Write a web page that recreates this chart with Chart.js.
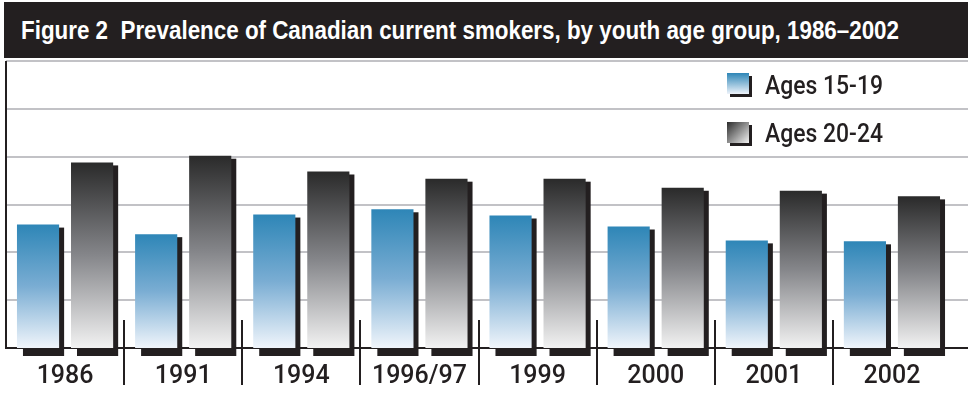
<!DOCTYPE html>
<html>
<head>
<meta charset="utf-8">
<script src="https://cdn.jsdelivr.net/npm/chart.js@4/dist/chart.umd.min.js"></script>
<style>
  html, body { margin: 0; padding: 0; background: #fff; }
  #wrap { position: relative; width: 968px; height: 396px; overflow: hidden; }
  #title {
    position: absolute; left: 4px; top: 2px; width: 964px; height: 56px;
    background: #231f20; color: #fff;
  }
  #title-text {
    position: absolute; left: 17px; top: 15px; white-space: pre;
    font: bold 26.5px "Liberation Sans", Arial, sans-serif; line-height: 26px;
    transform-origin: 0 0;
  }
  #chart-box { position: absolute; left: 0; top: 58px; width: 968px; height: 348px; }
  .legend-box {
    position: absolute; left: 727px; width: 22px; height: 21px;
    box-shadow: 3px 3px 0 #231f20;
  }
  .legend-text {
    position: absolute; left: 765px; white-space: nowrap; transform-origin: 0 0;
    font: 500 26px Roboto, "Liberation Sans", sans-serif; line-height: 26px; color: #231f20;
  }
</style>
</head>
<body>
<div id="wrap">
  <div id="title"><span id="title-text">Figure 2  Prevalence of Canadian current smokers, by youth age group, 1986–2002</span></div>
  <div id="chart-box"><canvas id="smokers-chart" width="968" height="348"></canvas></div>
  <div class="legend-box" style="top:73px; background:linear-gradient(#2e86b7,#eef3fa)"></div>
  <span class="legend-text" style="top:72px">Ages 15-19</span>
  <div class="legend-box" style="top:122px; background:linear-gradient(135deg,#2b2b2b,#f2f2f2)"></div>
  <span class="legend-text" style="top:120px">Ages 20-24</span>
</div>
<script>
// Survey years and prevalence (%)
const years = ["1986", "1991", "1994", "1996/97", "1999", "2000", "2001", "2002"];
const ages15to19 = [25.8, 23.8, 27.9, 29.0, 27.7, 25.4, 22.5, 22.3];
const ages20to24 = [38.8, 40.2, 36.9, 35.4, 35.4, 33.5, 32.9, 31.7];
const yTicks = [0, 10, 20, 30, 40, 50, 60];

const INK = "#231f20";

// squeeze the HTML text to the condensed widths of the original
function fitWidth(el, target) {
    const w = el.getBoundingClientRect().width;
    el.style.transform = `scaleX(${target / w})`;
}
fitWidth(document.getElementById("title-text"), 878);
document.querySelectorAll(".legend-text").forEach(el => fitWidth(el, 118));

// vertical gradient from the bar top down to the baseline
function barGradient(stops) {
    return context => {
        const chart = context.chart;
        if (!chart.chartArea) return stops[0];
        const y = chart.scales.y;
        const yTop = y.getPixelForValue(context.raw);
        const yBase = y.getPixelForValue(0);
        const g = chart.ctx.createLinearGradient(0, yTop, 0, yBase);
        g.addColorStop(0, stops[0]);
        g.addColorStop(0.5, stops[1]);
        g.addColorStop(1, stops[2]);
        return g;
    };
}

// gridlines, shadows, axis lines and category separators
const decorations = {
    id: "decorations",
    beforeDatasetsDraw(chart) {
        const { ctx, chartArea, scales } = chart;
        ctx.save();
        // horizontal gridlines run to the right edge of the canvas
        ctx.strokeStyle = "#c2c2c6";
        ctx.lineWidth = 2;
        yTicks.slice(1).forEach(v => {
            const y = Math.round(scales.y.getPixelForValue(v));
            ctx.beginPath();
            ctx.moveTo(chartArea.left, y);
            ctx.lineTo(chart.width, y);
            ctx.stroke();
        });
        // baseline
        const base = scales.y.getPixelForValue(0);
        ctx.strokeStyle = INK;
        ctx.beginPath();
        ctx.moveTo(chartArea.left - 1, base);
        ctx.lineTo(chart.width, base);
        ctx.stroke();
        // left axis
        ctx.beginPath();
        ctx.moveTo(chartArea.left, chartArea.top);
        ctx.lineTo(chartArea.left, base + 1);
        ctx.stroke();
        // separators between years
        for (let i = 1; i < years.length; i++) {
            const x = Math.round((scales.x.getPixelForValue(i - 1) + scales.x.getPixelForValue(i)) / 2);
            ctx.beginPath();
            ctx.moveTo(x, base - 28);
            ctx.lineTo(x, base + 37);
            ctx.stroke();
        }
        // drop shadows behind each bar
        ctx.fillStyle = INK;
        chart.data.datasets.forEach((ds, i) => {
            chart.getDatasetMeta(i).data.forEach(bar => {
                const p = bar.getProps(["x", "y", "width", "base"], true);
                const left = p.x - p.width / 2;
                ctx.fillRect(left + 6, p.y + 3, p.width - 1, p.base - p.y + 5);
            });
        });
        ctx.restore();
    }
};

new Chart(document.getElementById("smokers-chart"), {
    type: "bar",
    data: {
        labels: years,
        datasets: [
            {
                label: "Ages 15-19",
                data: ages15to19,
                backgroundColor: barGradient(["#2e86b7", "#7aadd3", "#f0f5fb"]),
                borderWidth: 0,
                barPercentage: 0.78,
                categoryPercentage: 0.915
            },
            {
                label: "Ages 20-24",
                data: ages20to24,
                backgroundColor: barGradient(["#2a2a2a", "#85868a", "#f2f2f2"]),
                borderWidth: 0,
                barPercentage: 0.78,
                categoryPercentage: 0.915
            }
        ]
    },
    options: {
        responsive: false,
        animation: false,
        layout: { padding: { left: 6, right: 17, top: 3, bottom: 0 } },
        scales: {
            x: {
                grid: { display: false, drawTicks: false },
                border: { display: false },
                ticks: {
                    color: INK,
                    padding: 14,
                    font: { family: "Roboto, 'Liberation Sans', sans-serif", size: 25, weight: "500" }
                }
            },
            y: {
                display: false,
                min: 0,
                max: 60,
                ticks: { stepSize: 10 }
            }
        },
        plugins: {
            legend: { display: false },
            tooltip: { enabled: false }
        }
    },
    plugins: [decorations]
});
</script>
</body>
</html>
